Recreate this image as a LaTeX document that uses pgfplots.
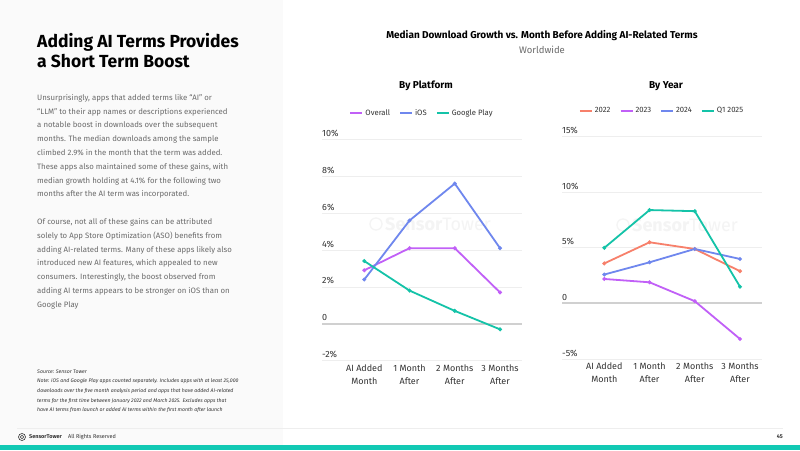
\documentclass[border=0pt]{standalone}
\usepackage{pgfplots}
\pgfplotsset{compat=1.18}
\usepackage{fontspec}
\setmainfont{Fira Sans}
\definecolor{cOverall}{HTML}{C160F7}
\definecolor{cIOS}{HTML}{6F87EE}
\definecolor{cGP}{HTML}{14C3A8}
\definecolor{c2022}{HTML}{F7806B}
\definecolor{cGrid}{HTML}{EEEEEE}
\definecolor{cZero}{HTML}{D0D0D0}
\definecolor{cText}{HTML}{333333}
\definecolor{cBody}{HTML}{6A6A6A}
\definecolor{cPanel}{HTML}{FAFAFA}
\definecolor{cTeal}{HTML}{12C9B4}
\definecolor{cWater}{HTML}{F4F4F4}
\pgfplotsset{
  myaxis/.style={
    scale only axis, width=200pt,
    xmin=-0.935, xmax=3.486,
    axis line style={draw=none}, tick style={draw=none},
    ymajorgrids, grid style={cGrid, line width=0.8pt},
    xtick={0,1,2,3},
    xticklabels={AI Added\\Month, 1 Month\\After, 2 Months\\After, 3 Months\\After},
    xticklabel style={align=center, font=\fontsize{9}{13}\selectfont, text=cText, inner sep=0pt, yshift=-4pt},
    yticklabel style={anchor=south west, inner sep=0pt, yshift=2.5pt, font=\fontsize{9}{10}\selectfont, text=cText},
    extra y ticks={0}, extra y tick labels={},
    extra y tick style={grid style={cZero, line width=2pt}},
    every axis plot/.append style={line width=1.8pt, mark=*, mark size=0.9pt},
    legend columns=-1,
    legend style={draw=none, fill=none, at={(0.5,1)}, anchor=center, yshift=26pt,
      font=\fontsize{7.7}{9}\selectfont, text=cText,
      /tikz/every even column/.append style={column sep=7pt}},
    legend image code/.code={\draw[#1, line width=2pt] (0pt,0pt) -- (12pt,0pt);},
  }
}
\begin{document}
\begin{tikzpicture}
\useasboundingbox (0pt,0pt) rectangle (800pt,450pt);
\fill[white] (0pt,0pt) rectangle (800pt,450pt);
\fill[cPanel] (0pt,0pt) rectangle (283pt,450pt);
% left text
\node[anchor=north west, inner sep=0pt, align=left, font=\fontsize{17.5}{20}\selectfont\bfseries, text=black] at (37pt,417pt) {Adding AI Terms Provides\\a Short Term Boost};
\node[anchor=north west, inner sep=0pt, align=left, font=\fontsize{7.8}{13.8}\selectfont, text=cBody] at (37pt,356pt) {Unsurprisingly, apps that added terms like ``AI'' or\\
``LLM'' to their app names or descriptions experienced\\
a notable boost in downloads over the subsequent\\
months. The median downloads among the sample\\
climbed 2.9\% in the month that the term was added.\\
These apps also maintained some of these gains, with\\
median growth holding at 4.1\% for the following two\\
months after the AI term was incorporated.\\[13.8pt]
Of course, not all of these gains can be attributed\\
solely to App Store Optimization (ASO) benefits from\\
adding AI-related terms. Many of these apps likely also\\
introduced new AI features, which appealed to new\\
consumers. Interestingly, the boost observed from\\
adding AI terms appears to be stronger on iOS than on\\
Google Play};
\node[anchor=north west, inner sep=0pt, align=left, font=\fontsize{5.2}{9.6}\selectfont\itshape, text=cText] at (37pt,80.5pt) {Source: Sensor Tower\\
Note: iOS and Google Play apps counted separately. Includes apps with at least 25,000\\
downloads over the five month analysis period and apps that have added AI-related\\
terms for the first time between January 2022 and March 2025. Excludes apps that\\
have AI terms from launch or added AI terms within the first month after launch};
% footer
\draw[cGrid, line width=0.8pt] (17pt,22pt) -- (783pt,22pt);
\draw[cText, line width=0.6pt] (22pt,13pt) circle (3.5pt);
\draw[cText, line width=0.5pt] (22pt,13pt) circle (1.8pt);
\node[anchor=west, inner sep=0pt, font=\fontsize{5.5}{6}\selectfont\bfseries, text=cText] at (29pt,13pt) {SensorTower};
\node[anchor=west, inner sep=0pt, font=\fontsize{5.5}{6}\selectfont, text=cText] at (68pt,13pt) {All Rights Reserved};
\node[anchor=east, inner sep=0pt, font=\fontsize{5.5}{6}\selectfont\bfseries, text=cText] at (783pt,13pt) {45};
\fill[cTeal] (0pt,0pt) rectangle (800pt,5pt);
% chart titles
\node[font=\fontsize{10}{11}\selectfont\bfseries, text=black] at (542pt,414pt) {Median Download Growth vs. Month Before Adding AI-Related Terms};
\node[font=\fontsize{9.5}{11}\selectfont, text=cBody] at (542pt,400pt) {Worldwide};
\node[font=\fontsize{10}{11}\selectfont\bfseries, text=black] at (426pt,364pt) {By Platform};
\node[font=\fontsize{10}{11}\selectfont\bfseries, text=black] at (666pt,364pt) {By Year};
% watermarks
\draw[cWater, line width=1.3pt] (376pt,226pt) circle (6pt);
\node[anchor=west, inner sep=0pt, font=\fontsize{18}{19}\selectfont, text=cWater] at (385pt,226pt) {\textbf{Sensor}Tower};
\draw[cWater, line width=1.3pt] (623pt,225pt) circle (6pt);
\node[anchor=west, inner sep=0pt, font=\fontsize{18}{19}\selectfont, text=cWater] at (632pt,225pt) {\textbf{Sensor}Tower};
% left axis
\begin{axis}[myaxis, at={(322pt,89.3pt)}, anchor=south west, height=221.4pt,
  ymin=-2, ymax=10, ytick={-2,0,2,4,6,8,10},
  yticklabels={-2\%,0,2\%,4\%,6\%,8\%,10\%}]
\addplot[cOverall] coordinates {(0,2.9) (1,4.1) (2,4.1) (3,1.7)};
\addlegendentry{Overall}
\addplot[cIOS] coordinates {(0,2.4) (1,5.6) (2,7.6) (3,4.1)};
\addlegendentry{iOS}
\addplot[cGP] coordinates {(0,3.4) (1,1.8) (2,0.7) (3,-0.3)};
\addlegendentry{Google Play}
\end{axis}
% right axis
\begin{axis}[myaxis, at={(562pt,91pt)}, anchor=south west, height=222.3pt,
  ymin=-5, ymax=15, ytick={-5,0,5,10,15},
  yticklabels={-5\%,0,5\%,10\%,15\%}]
\addplot[c2022] coordinates {(0,3.6) (1,5.5) (2,4.9) (3,2.9)};
\addlegendentry{2022}
\addplot[cOverall] coordinates {(0,2.2) (1,1.9) (2,0.2) (3,-3.2)};
\addlegendentry{2023}
\addplot[cIOS] coordinates {(0,2.6) (1,3.7) (2,4.9) (3,4.0)};
\addlegendentry{2024}
\addplot[cGP] coordinates {(0,5.0) (1,8.4) (2,8.3) (3,1.5)};
\addlegendentry{Q1 2025}
\end{axis}
\end{tikzpicture}
\end{document}
